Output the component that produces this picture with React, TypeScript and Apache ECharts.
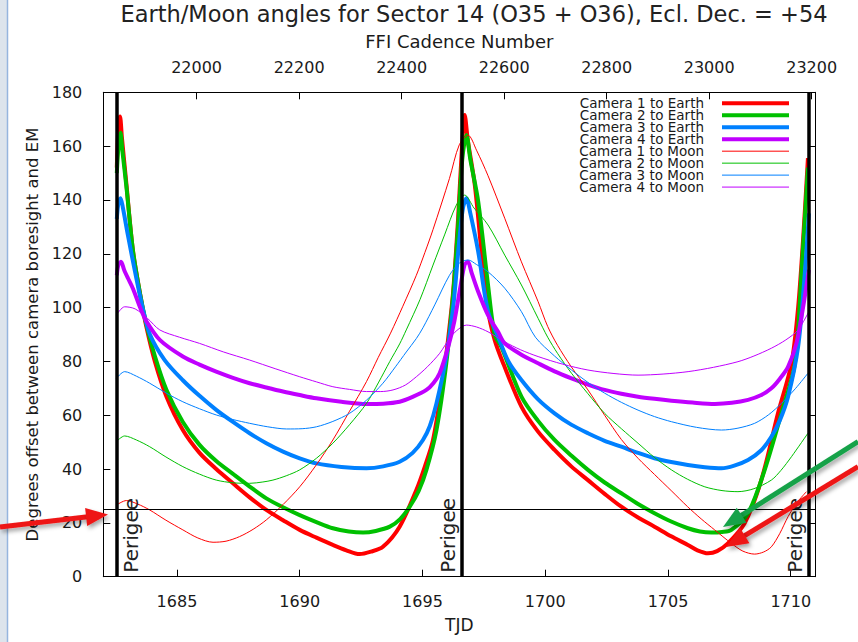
import React, { useEffect, useRef } from "react";
import * as echarts from "echarts";

// ---------- data ----------
const TJD_TICKS = [1685, 1690, 1695, 1700, 1705, 1710];
const CADENCE_TICKS = [22000, 22200, 22400, 22600, 22800, 23000, 23200];
const PERIGEES = [1682.55, 1696.6, 1710.73];
const THRESHOLD = 25;

const SERIES_NAMES = [
  "Camera 1 to Earth",
  "Camera 2 to Earth",
  "Camera 3 to Earth",
  "Camera 4 to Earth",
  "Camera 1 to Moon",
  "Camera 2 to Moon",
  "Camera 3 to Moon",
  "Camera 4 to Moon",
];
const COLORS = ["#ff0000", "#00c000", "#0080ff", "#c000ff"];

const cam1Earth: [number, number][] = [
  [1682.55, 152], [1682.62, 168], [1682.68, 171], [1682.76, 163], [1682.94, 146], [1683.21, 121],
  [1683.5, 105], [1683.75, 93], [1684.1, 80], [1684.57, 67], [1685.24, 54.5], [1685.92, 46],
  [1686.6, 40], [1687.28, 34.7], [1687.96, 29.5], [1688.64, 24.8], [1689.32, 21], [1690.0, 17.4],
  [1690.68, 14.5], [1691.35, 11.8], [1691.9, 9.8], [1692.44, 8.4], [1692.9, 9.3], [1693.39, 11.1],
  [1694.07, 18.6], [1694.75, 32.2], [1695.1, 41], [1695.43, 50.8], [1695.83, 73], [1696.04, 88],
  [1696.25, 106], [1696.45, 133], [1696.6, 158], [1696.72, 171.6], [1696.85, 162], [1697.13, 145.6],
  [1697.4, 121], [1697.65, 100], [1697.94, 88], [1698.3, 79], [1699.03, 63.2], [1699.7, 54],
  [1700.38, 47.1], [1701.06, 41], [1701.74, 35.9], [1702.42, 30.8], [1703.1, 26], [1703.78, 22],
  [1704.45, 18.6], [1705.13, 15], [1705.81, 11.8], [1706.2, 9.8], [1706.63, 8.7], [1707.0, 9.5],
  [1707.44, 12.4], [1708.12, 19.8], [1708.8, 35.9], [1709.48, 60.7], [1710.03, 79.3], [1710.3, 100],
  [1710.5, 125], [1710.7, 155.5],
];

const cam2Earth: [number, number][] = [
  [1682.55, 150], [1682.62, 160], [1682.7, 165], [1682.78, 158], [1682.94, 145], [1683.21, 121],
  [1683.5, 105], [1683.75, 94], [1684.1, 82], [1684.57, 69.5], [1685.24, 57.5], [1685.92, 49],
  [1686.6, 43], [1687.28, 38.2], [1687.96, 33.5], [1688.64, 29.1], [1689.32, 25.8], [1690.0, 22.9],
  [1690.68, 20.3], [1691.35, 18.0], [1692.0, 16.8], [1692.58, 16.4], [1693.1, 17.0], [1693.67, 18.6],
  [1694.1, 21.5], [1694.48, 26], [1694.85, 32], [1695.16, 39.7], [1695.57, 54.5], [1695.97, 79.3],
  [1696.25, 105], [1696.45, 130], [1696.62, 155], [1696.79, 164.1], [1696.95, 155], [1697.27, 139.4],
  [1697.67, 108.4], [1697.94, 90], [1698.21, 85.5], [1699.03, 66.9], [1699.7, 58], [1700.38, 50.8],
  [1701.06, 45], [1701.74, 39.7], [1702.42, 35], [1703.1, 31], [1703.78, 27], [1704.45, 23.6],
  [1705.13, 20.5], [1705.81, 18], [1706.3, 16.8], [1706.77, 16.4], [1707.2, 16.6], [1707.58, 17.4],
  [1708.26, 23.6], [1708.94, 39.7], [1709.62, 60.7], [1710.17, 79.3], [1710.45, 115], [1710.7, 152],
];

const cam3Earth: [number, number][] = [
  [1682.55, 133], [1682.62, 139], [1682.7, 140.6], [1682.8, 137], [1683.0, 127], [1683.3, 113],
  [1683.6, 100], [1683.9, 90], [1684.5, 80.5], [1685.24, 73], [1685.92, 67.2], [1686.6, 62],
  [1687.28, 57.5], [1687.96, 53.3], [1688.64, 49.6], [1689.32, 46.5], [1690.0, 44], [1690.68, 42.1],
  [1691.7, 40.8], [1692.72, 40.3], [1693.4, 41], [1694.07, 42.7], [1694.6, 46], [1695.02, 50.8],
  [1695.3, 56], [1695.57, 64.4], [1695.97, 81.8], [1696.25, 100], [1696.5, 125], [1696.65, 137],
  [1696.79, 140.6], [1696.95, 135], [1697.27, 120.8], [1697.67, 98.5], [1698.08, 89.2], [1698.5, 80],
  [1699.03, 73.1], [1699.7, 66], [1700.38, 60.7], [1701.06, 56.5], [1701.74, 53.3], [1702.42, 50.5],
  [1703.1, 48.3], [1703.78, 46], [1704.45, 44], [1705.13, 42.6], [1705.81, 41.5], [1706.5, 40.7],
  [1707.18, 40.3], [1707.7, 41.3], [1708.26, 43.4], [1708.8, 47], [1709.21, 52], [1709.55, 58],
  [1709.89, 66.9], [1710.3, 85.5], [1710.55, 110], [1710.74, 135],
];

const cam4Earth: [number, number][] = [
  [1682.55, 112], [1682.62, 116], [1682.72, 117], [1682.85, 114], [1683.0, 111], [1683.21, 107],
  [1683.5, 100], [1683.75, 95], [1684.3, 88], [1685.24, 81.8], [1685.92, 78.8], [1686.6, 76.2],
  [1687.28, 73.9], [1687.96, 71.9], [1688.64, 70.3], [1689.32, 68.8], [1690.0, 67.5], [1690.68, 66.3],
  [1691.7, 65], [1692.72, 64.2], [1693.4, 64.3], [1694.07, 65], [1694.6, 66.8], [1695.16, 69.4],
  [1695.45, 72], [1695.7, 75.6], [1696.05, 85.5], [1696.3, 95], [1696.55, 108], [1696.72, 116],
  [1696.85, 117], [1697.0, 113], [1697.27, 105.9], [1697.67, 97.2], [1698.08, 91], [1698.35, 86.7],
  [1699.03, 82.5], [1699.71, 79.3], [1700.38, 76.3], [1701.07, 73.7], [1701.74, 71.4], [1702.42, 69.4],
  [1703.1, 68], [1703.78, 66.9], [1704.45, 66.1], [1705.14, 65.4], [1706.0, 64.7], [1706.91, 64.2],
  [1707.6, 64.6], [1708.26, 65.7], [1708.8, 67.5], [1709.21, 70], [1709.55, 73.5], [1709.89, 78],
  [1710.23, 86.7], [1710.5, 100], [1710.74, 114],
];

const cam1Moon: [number, number][] = [
  [1682.53, 26.6], [1682.94, 28.3], [1683.4, 27], [1683.89, 24.8], [1684.55, 21], [1685.24, 17.4],
  [1685.85, 14.4], [1686.47, 12.8], [1687.0, 13.2], [1687.55, 14.9], [1688.1, 17.6], [1688.64, 21.1],
  [1689.32, 26.8], [1690.0, 33.4], [1690.68, 41.6], [1691.35, 50.8], [1692.03, 61.5], [1692.72, 72.5],
  [1693.2, 81.5], [1693.7, 90.5], [1694.2, 100.5], [1694.75, 112], [1695.1, 120.5], [1695.43, 129],
  [1696.1, 148], [1696.5, 160.5], [1696.86, 164], [1697.2, 158.5], [1697.67, 149], [1698.35, 133.2],
  [1699.03, 117], [1699.71, 102.2], [1700.1, 93], [1700.5, 86], [1701.06, 78], [1701.74, 69.4],
  [1702.42, 60], [1703.1, 51], [1703.78, 44], [1704.45, 38], [1705.13, 32], [1705.8, 26],
  [1706.35, 21.5], [1706.9, 17.4], [1707.58, 12.4], [1708.05, 9.5], [1708.53, 8.4], [1708.9, 9.2],
  [1709.21, 11.1], [1709.55, 16], [1709.89, 22.3], [1710.25, 27.5], [1710.64, 31.6],
];

const cam2Moon: [number, number][] = [
  [1682.53, 50.2], [1682.87, 52.3], [1683.35, 50.8], [1683.89, 48.3], [1684.55, 44.5], [1685.24, 40.9],
  [1685.92, 38.1], [1686.6, 35.9], [1687.28, 34.9], [1687.96, 34.7], [1688.5, 35.2], [1688.91, 35.9],
  [1689.45, 37.5], [1690.0, 39.7], [1690.68, 44], [1691.35, 49.6], [1692.03, 56.5], [1692.72, 64.4],
  [1693.2, 72], [1693.67, 80], [1694.07, 86.5], [1694.34, 91.7], [1694.9, 103], [1695.43, 115.8],
  [1695.9, 127], [1696.38, 138.1], [1696.72, 141.8], [1697.1, 137], [1697.67, 130.7], [1698.35, 119.5],
  [1699.03, 108.4], [1699.71, 96], [1700.1, 89], [1700.5, 83], [1701.07, 75.6], [1701.74, 68],
  [1702.42, 60.7], [1703.1, 55], [1703.78, 49.6], [1704.45, 44.3], [1705.14, 39.7], [1705.8, 36.2],
  [1706.5, 33.4], [1707.2, 32], [1707.85, 31.6], [1708.5, 32.7], [1709.21, 35.9], [1709.6, 39.5],
  [1710.03, 44.6], [1710.7, 53.3],
];

const cam3Moon: [number, number][] = [
  [1682.53, 73.7], [1682.87, 76.2], [1683.35, 74.5], [1683.89, 71.9], [1684.55, 68.3], [1685.24, 65],
  [1685.92, 62.4], [1686.6, 60.1], [1687.28, 58.4], [1687.96, 57], [1688.7, 55.7], [1689.46, 54.9],
  [1690.1, 55], [1690.68, 55.7], [1691.35, 57.7], [1692.03, 60.7], [1692.72, 65.6], [1693.39, 71.9],
  [1693.9, 78], [1694.34, 83.5], [1694.75, 88.5], [1695.02, 92.5], [1695.5, 101], [1696.1, 112],
  [1696.5, 116.5], [1696.86, 117.7], [1697.2, 116], [1697.67, 113.3], [1698.35, 107.2], [1699.03, 98.5],
  [1699.6, 89], [1700.38, 82], [1701.07, 76.8], [1701.74, 72.2], [1702.42, 68.2], [1703.1, 64.8],
  [1703.78, 61.9], [1704.45, 59.5], [1705.14, 57.6], [1706.16, 55.5], [1707.18, 54.5], [1707.85, 55.2],
  [1708.53, 57], [1709.1, 60.2], [1709.62, 64.4], [1710.2, 70], [1710.7, 75.6],
];

const cam4Moon: [number, number][] = [
  [1682.53, 97.2], [1682.87, 100.3], [1683.3, 99.5], [1683.8, 96], [1684.3, 91.7], [1685.1, 89],
  [1685.92, 86.7], [1686.9, 83.5], [1687.96, 80.5], [1689.0, 77.3], [1690.0, 74.3], [1690.68, 72.4],
  [1691.35, 70.6], [1692.03, 69.6], [1692.72, 68.8], [1693.3, 68.8], [1693.8, 69.4], [1694.3, 71.2],
  [1694.75, 74.3], [1695.2, 78], [1695.7, 83], [1696.1, 88.5], [1696.4, 91.5], [1696.79, 93.5],
  [1697.2, 92.8], [1697.67, 91], [1698.35, 87.3], [1699.0, 84.3], [1699.71, 81.8], [1700.7, 79],
  [1701.74, 76.8], [1702.8, 75.5], [1703.78, 74.9], [1704.8, 75.3], [1705.82, 76.2], [1706.85, 77.8],
  [1707.85, 79.9], [1708.5, 82], [1709.21, 84.9], [1709.8, 88], [1710.3, 91.7], [1710.77, 99.1],
];

const EARTH = [cam1Earth, cam2Earth, cam3Earth, cam4Earth];
const MOON = [cam1Moon, cam2Moon, cam3Moon, cam4Moon];

// ---------- styling helpers ----------
const FONT = "DejaVu Sans";
const TEXT = "#1a1a1a";

function arrowElements(x1: number, y1: number, x2: number, y2: number, color: string) {
  const dx = x2 - x1;
  const dy = y2 - y1;
  const len = Math.sqrt(dx * dx + dy * dy);
  const ux = dx / len;
  const uy = dy / len;
  const headLen = 22;
  const headW = 9;
  const bx = x2 - ux * headLen;
  const by = y2 - uy * headLen;
  const px = -uy;
  const py = ux;
  const shadow = {
    shadowBlur: 4,
    shadowColor: "rgba(0,0,0,0.35)",
    shadowOffsetX: 2,
    shadowOffsetY: 3,
  };
  return [
    {
      type: "line",
      z: 100,
      shape: { x1, y1, x2: bx + ux * 4, y2: by + uy * 4 },
      style: { stroke: color, lineWidth: 5, ...shadow },
    },
    {
      type: "polygon",
      z: 100,
      shape: {
        points: [
          [x2, y2],
          [bx + px * headW, by + py * headW],
          [bx - px * headW, by - py * headW],
        ],
      },
      style: { fill: color, ...shadow },
    },
  ];
}

function legendElements() {
  const els: any[] = [];
  const textRight = 704;
  const lineX1 = 722;
  const lineX2 = 789;
  const top = 103.3;
  const step = 11.97;
  SERIES_NAMES.forEach((name, i) => {
    const y = top + step * i;
    const color = COLORS[i % 4];
    const thick = i < 4;
    els.push({
      type: "text",
      z: 50,
      x: textRight,
      y,
      style: {
        text: name,
        fill: TEXT,
        fontSize: 13.5,
        lineHeight: 11.5,
        fontFamily: FONT,
        align: "right",
        verticalAlign: "middle",
      },
    });
    els.push({
      type: "line",
      z: 50,
      shape: { x1: lineX1, y1: y, x2: lineX2, y2: y },
      style: { stroke: color, lineWidth: thick ? 4 : 1 },
    });
  });
  return els;
}

const plainNumber = (v: number) => String(v);

export default function App() {
  const ref = useRef<HTMLDivElement>(null);

  useEffect(() => {
    const chart = echarts.init(ref.current!, null, { renderer: "svg" });

    const lineSeries = [
      ...EARTH.map((d, i) => ({
        type: "line",
        name: SERIES_NAMES[i],
        data: d,
        xAxisIndex: 0,
        yAxisIndex: 0,
        symbol: "none",
        showSymbol: false,
        smooth: 0.3,
        lineStyle: { color: COLORS[i], width: 4 },
        z: 3,
      })),
      ...MOON.map((d, i) => ({
        type: "line",
        name: SERIES_NAMES[i + 4],
        data: d,
        xAxisIndex: 0,
        yAxisIndex: 0,
        symbol: "none",
        showSymbol: false,
        smooth: 0.3,
        lineStyle: { color: COLORS[i], width: 1 },
        z: 4,
      })),
    ];

    const refSeries = {
      type: "line",
      name: "refs",
      data: [],
      xAxisIndex: 0,
      yAxisIndex: 0,
      z: 2,
      markLine: {
        silent: true,
        symbol: "none",
        animation: false,
        data: [
          ...PERIGEES.map((p, i) => ({
            xAxis: p,
            lineStyle: { color: "#000", width: 3.5, type: "solid" },
            label: {
              show: true,
              formatter: "Perigee",
              position: i === 0 ? "insideStartBottom" : "insideStartTop",
              distance: 4,
              color: "#222",
              fontSize: 20,
              fontFamily: FONT,
            },
          })),
          {
            yAxis: THRESHOLD,
            lineStyle: { color: "#000", width: 1, type: "solid" },
            label: { show: false },
          },
        ],
      },
    };

    const axisCommon = {
      axisLine: { show: true, onZero: false, lineStyle: { color: "#000", width: 1 } },
      splitLine: { show: false },
      nameTextStyle: { fontSize: 17, color: TEXT, fontFamily: FONT },
    };

    const option: any = {
      animation: false,
      backgroundColor: "#ffffff",
      title: {
        text: "Earth/Moon angles for Sector 14 (O35 + O36), Ecl. Dec. = +54",
        left: 474,
        top: 2,
        padding: 0,
        textAlign: "center",
        textStyle: { fontSize: 22.5, fontWeight: "normal", color: "#222", fontFamily: FONT },
      },
      grid: { left: 103.3, top: 92.3, width: 712, height: 484.4, containLabel: false },
      xAxis: [
        {
          type: "value",
          position: "bottom",
          min: 1682,
          max: 1711,
          name: "TJD",
          nameLocation: "middle",
          nameGap: 40,
          ...axisCommon,
          axisTick: {
            show: true,
            inside: true,
            length: 7,
            customValues: TJD_TICKS,
            lineStyle: { color: "#000" },
          },
          axisLabel: {
            customValues: TJD_TICKS,
            formatter: plainNumber,
            margin: 17,
            fontSize: 16,
            color: TEXT,
            fontFamily: FONT,
          },
        },
        {
          type: "value",
          position: "top",
          min: 21818,
          max: 23207,
          name: "FFI Cadence Number",
          nameLocation: "middle",
          nameGap: 42,
          ...axisCommon,
          nameTextStyle: { fontSize: 18, color: TEXT, fontFamily: FONT },
          axisTick: {
            show: true,
            inside: true,
            length: 7,
            customValues: CADENCE_TICKS,
            lineStyle: { color: "#000" },
          },
          axisLabel: {
            customValues: CADENCE_TICKS,
            formatter: plainNumber,
            margin: 17,
            fontSize: 16,
            color: TEXT,
            fontFamily: FONT,
          },
        },
      ],
      yAxis: [
        {
          type: "value",
          position: "left",
          min: 0,
          max: 180,
          interval: 20,
          name: "Degrees offset between camera boresight and EM",
          nameLocation: "middle",
          nameGap: 62,
          ...axisCommon,
          nameTextStyle: { fontSize: 16.5, color: TEXT, fontFamily: FONT },
          axisTick: { show: true, inside: true, length: 7, lineStyle: { color: "#000" } },
          axisLabel: { formatter: plainNumber, margin: 21, fontSize: 16, color: TEXT, fontFamily: FONT },
        },
        {
          type: "value",
          position: "right",
          min: 0,
          max: 180,
          interval: 20,
          ...axisCommon,
          axisTick: { show: true, inside: true, length: 7, lineStyle: { color: "#000" } },
          axisLabel: { show: false },
        },
      ],
      series: [refSeries, ...lineSeries],
      graphic: [
        {
          type: "rect",
          z: 0,
          shape: { x: 0, y: 0, width: 7, height: 642 },
          style: { fill: "#dde4ec" },
        },
        {
          type: "line",
          z: 0,
          shape: { x1: 7.5, y1: 0, x2: 7.5, y2: 642 },
          style: { stroke: "#96b5de", lineWidth: 1.5 },
        },
        ...legendElements(),
        ...arrowElements(0, 527, 108, 514.5, "#ee1616"),
        ...arrowElements(858, 441.7, 723, 527, "#19a24a"),
        ...arrowElements(858, 466.7, 726, 547, "#ee1616"),
      ],
    };

    chart.setOption(option);
    return () => chart.dispose();
  }, []);

  return (
    <div
      ref={ref}
      style={{ position: "fixed", left: 0, top: 0, width: 858, height: 642, background: "#fff" }}
    />
  );
}
